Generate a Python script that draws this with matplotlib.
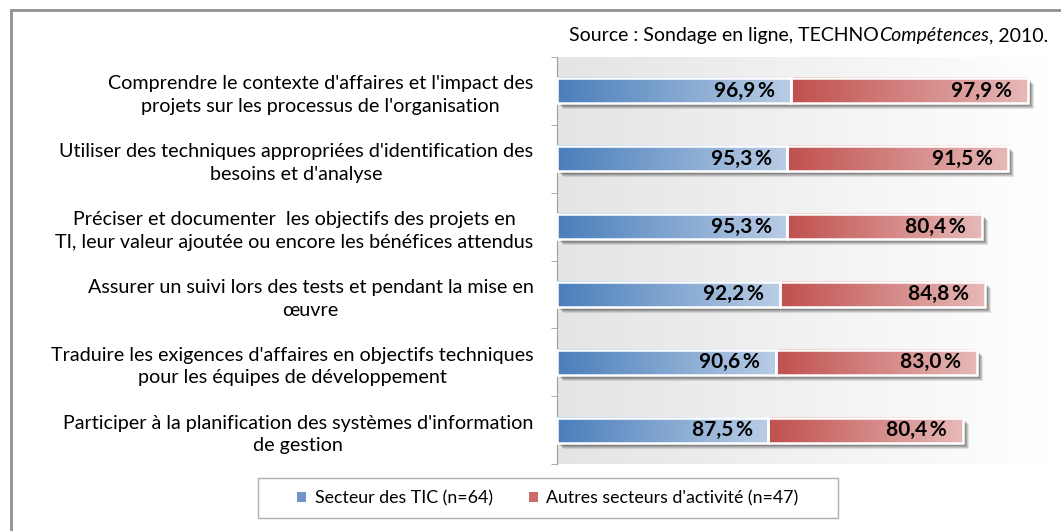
import numpy as np
import matplotlib.pyplot as plt
from matplotlib.patches import Rectangle, Patch
from matplotlib import transforms
from matplotlib.colors import LinearSegmentedColormap

plt.rcParams['font.family'] = ['Lato', 'DejaVu Sans']

categories = [
    "Comprendre le contexte d'affaires et l'impact des\nprojets sur les processus de l'organisation",
    "Utiliser des techniques appropriées d'identification des\nbesoins et d'analyse",
    "Préciser et documenter  les objectifs des projets en\nTI, leur valeur ajoutée ou encore les bénéfices attendus",
    "Assurer un suivi lors des tests et pendant la mise en\nœuvre",
    "Traduire les exigences d'affaires en objectifs techniques\npour les équipes de développement",
    "Participer à la planification des systèmes d'information\nde gestion",
]
tic = [96.9, 95.3, 95.3, 92.2, 90.6, 87.5]
autres = [97.9, 91.5, 80.4, 84.8, 83.0, 80.4]
series_names = ["Secteur des TIC (n=64)", "Autres secteurs d'activité (n=47)"]
source_parts = ["Source : Sondage en ligne, TECHNO", "Compétences", ", 2010."]

blue_cm = LinearSegmentedColormap.from_list('b', ['#4a7ebb', '#b9cde5'])
red_cm = LinearSegmentedColormap.from_list('r', ['#c0504d', '#e6b9b8'])
bg_cm = LinearSegmentedColormap.from_list('bg', ['#e4e4e4', '#ffffff'])

W, H = 1061, 531
fig = plt.figure(figsize=(W / 100, H / 100), dpi=100)

# cadre du graphique
fig.patches.append(Rectangle((11 / W, -0.05), 1.1, (531 + 27 - 10) / H, transform=fig.transFigure,
                             fill=False, edgecolor='#909090', linewidth=2))

ax = fig.add_axes([557 / W, 67 / H, 493 / W, 407 / H])
xmax = 204
n = len(categories)
ys = np.arange(n)[::-1]
bh = 0.37

ax.imshow(np.linspace(0, 1, 256).reshape(1, -1), extent=[0, xmax, -0.5, n - 0.5],
          cmap=bg_cm, aspect='auto', zorder=0)

grad = np.linspace(0, 1, 256).reshape(1, -1)


def draw_segment(x0, w, y, cmap, label):
    # ombre
    for k, a in enumerate([0.10, 0.12, 0.14, 0.16]):
        off = transforms.offset_copy(ax.transData, fig=fig, x=6 - k, y=-6 + k, units='dots')
        ax.add_patch(Rectangle((x0, y - bh / 2), w, bh, transform=off, facecolor='#000000',
                               alpha=a, edgecolor='none', zorder=1))
    ax.imshow(grad, extent=[x0, x0 + w, y - bh / 2, y + bh / 2], cmap=cmap, aspect='auto', zorder=2)
    ax.add_patch(Rectangle((x0, y - bh / 2), w, bh, facecolor='none', edgecolor='white',
                           linewidth=1.8, zorder=3))
    ax.text(x0 + w - 6.5, y, label, ha='right', va='center', fontsize=15,
            fontweight='bold', color='black', zorder=4)


def fmt(v):
    return ('%.1f' % v).replace('.', ',') + '\u2009%'


for y, a, b in zip(ys, tic, autres):
    draw_segment(0, a, y, blue_cm, fmt(a))
    draw_segment(a, b, y, red_cm, fmt(b))

ax.set_xlim(0, xmax)
ax.set_ylim(-0.5, n - 0.5)
ax.set_xticks([])
ax.set_yticks(ys)
ax.set_yticklabels(categories, fontsize=14.2, linespacing=1.4)
for t in ax.get_yticklabels():
    t.set_multialignment('center')
ax.set_yticks(np.arange(n + 1) - 0.5, minor=True)
ax.tick_params(axis='y', which='major', length=0, pad=17)
ax.tick_params(axis='y', which='minor', length=4, color='#a0a0a0', direction='out')
for s in ['top', 'right', 'bottom']:
    ax.spines[s].set_visible(False)
ax.spines['left'].set_color('#a0a0a0')

# source, avec la partie en italique
fig.canvas.draw()
r = fig.canvas.get_renderer()
x = 1048 / W
yy = 1 - 36 / H
for part, st in zip(source_parts[::-1], ['normal', 'italic', 'normal'][::-1]):
    t = fig.text(x, yy, part, ha='right', va='center', fontsize=14, style=st)
    bb = t.get_window_extent(r)
    x = bb.x0 / W

# légende
fig.patches.append(Rectangle((258 / W, (531 - 518) / H), 580 / W, 40 / H, transform=fig.transFigure,
                             fill=False, edgecolor='#b0b0b0', linewidth=1))
handles = [Patch(facecolor='#6f95c8'), Patch(facecolor='#cd6c6a')]
fig.legend(handles, series_names, loc='center', bbox_to_anchor=(548 / W, (531 - 498) / H),
           ncol=2, frameon=False, fontsize=12.8, handlelength=0.5, handleheight=0.5,
           handletextpad=0.5, columnspacing=2.0)

fig.savefig('out.png', dpi=100)
